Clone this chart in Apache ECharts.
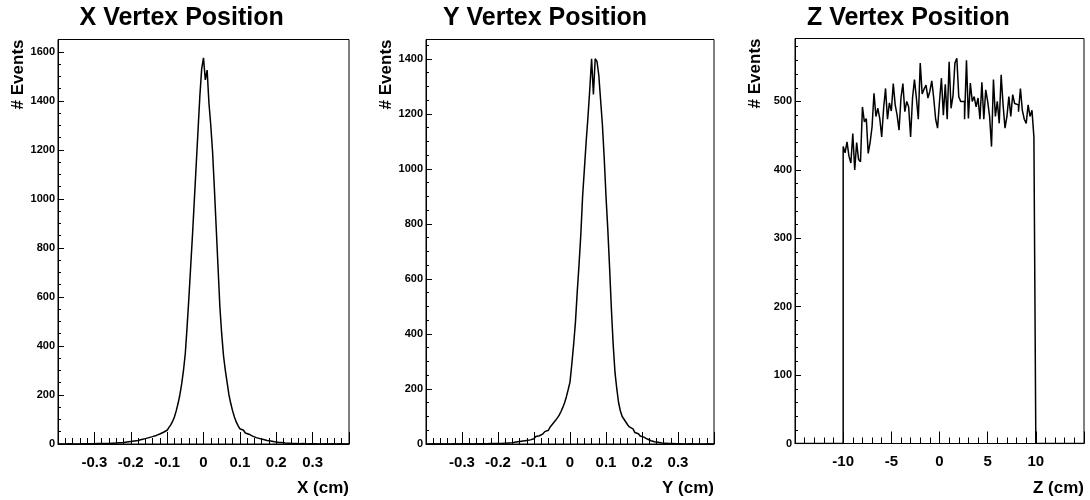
<!DOCTYPE html>
<html><head><meta charset="utf-8">
<script src="https://cdn.jsdelivr.net/npm/echarts@6/dist/echarts.min.js"></script>
<style>html,body{margin:0;padding:0;background:#fff}#c{width:1090px;height:500px}</style>
</head><body><div id="c"></div>
<script>
// ---- data ----
const titles = ['X Vertex Position', 'Y Vertex Position', 'Z Vertex Position'];
const xTitles = ['X (cm)', 'Y (cm)', 'Z (cm)'];
const yTitle = '# Events';

const xStart = -0.4, xBin = 0.005;
const xCounts = [
  0,0,1,0,0,1,0,0,1,0,1,0,1,1,0,1,0,1,1,1,
  1,2,1,2,2,2,3,2,3,3,
  3,4,4,5,5,6,7,8,9,10,
  11,12,13,14,16,18,20,22,24,26,
  28,30,32,35,38,41,44,48,52,56,
  60,68,78,92,110,135,165,200,245,300,
  370,480,600,730,860,1000,1140,1280,1420,1530,
  1575,1485,1525,1390,1300,1190,1040,880,720,560,
  450,360,300,250,200,165,135,110,90,75,
  62,56,50,45,40,36,32,29,26,24,
  22,20,18,16,14,13,12,10,9,8,
  7,6,6,5,4,4,3,3,2,2,
  2,1,1,1,2,1,0,1,1,0,
  1,0,0,1,0,0,1,0,0,0,1,0,0,0,1,0,0,0,0,0
];

const yStart = -0.4, yBin = 0.005;
const yCounts = [
  0,0,0,1,0,0,0,1,0,0,0,0,1,0,0,1,0,0,0,1,
  0,1,0,1,1,0,1,1,0,1,1,1,2,1,1,2,1,2,2,2,
  3,2,3,3,4,4,5,5,6,7,
  8,9,10,11,12,13,14,15,17,19,
  24,27,30,33,37,41,45,50,56,62,
  70,78,86,95,105,118,133,150,172,198,
  225,290,360,440,550,650,760,900,1000,1100,
  1190,1290,1400,1270,1400,1390,1340,1250,1160,1040,
  900,780,640,490,360,260,200,150,120,100,
  90,80,70,62,55,48,42,37,33,29,
  25,21,18,15,12,10,8,7,6,5,
  4,4,3,3,2,2,2,1,1,1,
  1,1,0,1,0,0,1,0,0,0,0,1,0,0,0,0,1,0,0,0
];

const zStart = -10, zBin = 0.2;
const zCounts = [
  434,425,441,420,410,453,400,440,415,412,
  492,470,475,424,440,463,512,478,490,475,
  448,490,519,474,498,486,526,495,480,458,
  505,526,485,500,492,448,505,532,505,474,
  556,511,518,524,505,515,530,505,474,461,
  500,534,480,525,474,558,490,508,556,563,
  507,500,500,474,560,475,527,500,507,492,
  505,474,528,474,517,500,478,434,532,478,
  500,468,539,495,461,478,507,478,510,497,
  495,485,519,487,474,468,495,478,487,448
];

const xRange = [-0.4, 0.4], xStep = 0.1;
const zRange = [-15, 15], zStep = 5;
const yMax = [1650, 1470, 592];
const yMajorStep = [200, 200, 100];
const yMinorStep = [50, 50, 20];

// ---- build ----
function hist(start, w, counts, lo, hi) {
  const d = [];
  if (lo < start) d.push([lo, 0]);
  counts.forEach((v, i) => d.push([+(start + i * w).toFixed(4), v]));
  const end = +(start + counts.length * w).toFixed(4);
  d.push([end, 0]);
  if (hi > end) d.push([hi, 0]);
  return d;
}

const FONT = '"Liberation Sans", Arial, Helvetica, sans-serif';
const grids = [
  {left: 58, top: 39.5, width: 291, height: 404.5},
  {left: 426, top: 39.5, width: 288, height: 404.5},
  {left: 795, top: 38.5, width: 289, height: 405}
];
const ranges = [xRange, xRange, zRange];
const steps = [xStep, xStep, zStep];
const data = [
  hist(xStart, xBin, xCounts, xRange[0], xRange[1]),
  hist(yStart, yBin, yCounts, xRange[0], xRange[1]),
  hist(zStart, zBin, zCounts, zRange[0], zRange[1])
];

const option = {
  animation: false,
  backgroundColor: '#fff',
  grid: grids.map(g => Object.assign({show: true, borderColor: '#000', borderWidth: 1, containLabel: false}, g)),
  xAxis: ranges.map((r, i) => ({
    type: 'value', gridIndex: i, min: r[0], max: r[1], interval: steps[i],
    axisLine: {show: true, onZero: false, lineStyle: {color: '#000', width: 1}},
    axisTick: {show: true, inside: true, length: 12, lineStyle: {color: '#000', width: 1}},
    minorTick: {show: true, splitNumber: 5, length: 6, lineStyle: {color: '#000', width: 1}},
    splitLine: {show: false}, minorSplitLine: {show: false},
    axisLabel: {show: true, showMinLabel: false, showMaxLabel: false, margin: 11,
      color: '#000', fontFamily: FONT, fontWeight: 'bold', fontSize: 15,
      formatter: v => String(+v.toFixed(3))}
  })),
  yAxis: [],
  series: [],
  graphic: []
};

for (let i = 0; i < 3; i++) {
  option.yAxis.push({
    type: 'value', gridIndex: i, min: 0, max: yMax[i], interval: yMajorStep[i], position: 'left',
    axisLine: {show: true, onZero: false, lineStyle: {color: '#000', width: 1}},
    axisTick: {show: true, inside: true, length: 6, lineStyle: {color: '#000', width: 1}},
    splitLine: {show: false},
    axisLabel: {show: true, showMaxLabel: false, margin: 3, color: '#000',
      fontFamily: FONT, fontWeight: 'bold', fontSize: 11, formatter: v => String(v)}
  });
  option.yAxis.push({
    type: 'value', gridIndex: i, min: 0, max: yMax[i], interval: yMinorStep[i], position: 'left',
    axisLine: {show: false, onZero: false},
    axisTick: {show: true, inside: true, length: 3, lineStyle: {color: '#000', width: 1}},
    splitLine: {show: false},
    axisLabel: {show: false}
  });
  option.series.push({
    type: 'line', xAxisIndex: i, yAxisIndex: 2 * i, step: 'end', symbol: 'none',
    data: data[i], lineStyle: {color: '#000', width: 1.5}, clip: true, silent: true
  });
  const g = grids[i];
  const padCenter = 1090 / 3 * (i + 0.5);
  option.graphic.push({
    type: 'text', x: padCenter, y: 18,
    style: {text: titles[i], fill: '#000', font: 'bold 25px ' + FONT, textAlign: 'center', textVerticalAlign: 'middle'}
  });
  option.graphic.push({
    type: 'text', x: g.left + g.width, y: 488,
    style: {text: xTitles[i], fill: '#000', font: 'bold 17px ' + FONT, textAlign: 'right', textVerticalAlign: 'middle'}
  });
  option.graphic.push({
    type: 'text', x: g.left - 40, y: g.top, rotation: Math.PI / 2,
    style: {text: yTitle, fill: '#000', font: 'bold 17px ' + FONT, textAlign: 'right', textVerticalAlign: 'middle'}
  });
}

const chart = echarts.init(document.getElementById('c'), null, {renderer: 'canvas'});
chart.setOption(option);
</script>
</body></html>
